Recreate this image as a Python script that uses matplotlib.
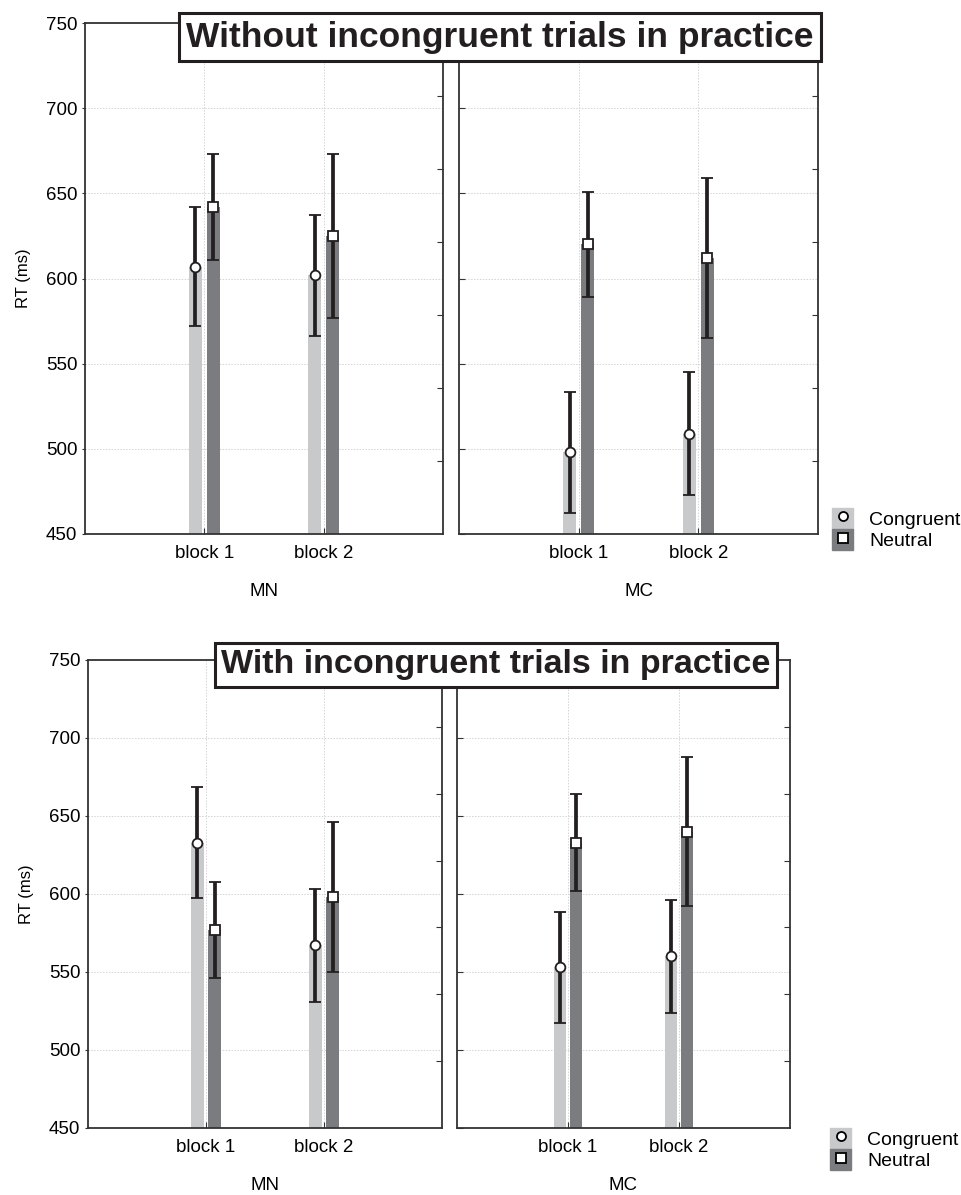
import matplotlib
matplotlib.use("Agg")
import matplotlib.pyplot as plt
import numpy as np
from matplotlib.patches import Patch
from matplotlib.lines import Line2D
from matplotlib.legend_handler import HandlerTuple

plt.rcParams['font.family'] = ['Liberation Sans', 'DejaVu Sans']

# data (ms)
blocks = ['block 1', 'block 2']
groups = ['MN', 'MC']
titles = ['Without incongruent trials in practice', 'With incongruent trials in practice']

# without incongruent trials in practice
cong_wo = {'MN': [607, 602], 'MC': [498, 509]}
cong_wo_ci = {'MN': [35, 35.5], 'MC': [35.5, 36]}
neut_wo = {'MN': [642, 625], 'MC': [620, 612]}
neut_wo_ci = {'MN': [31, 48], 'MC': [31, 47]}

# with incongruent trials in practice
cong_w = {'MN': [633, 567], 'MC': [553, 560]}
cong_w_ci = {'MN': [35.5, 36], 'MC': [35.5, 36]}
neut_w = {'MN': [577, 598], 'MC': [633, 640]}
neut_w_ci = {'MN': [31, 48], 'MC': [31, 48]}

W, H = 961, 1195
C_LIGHT = '#c8c9cb'
C_DARK = '#7b7c80'
C_ERR = '#231f20'
FS = 13.5

fig = plt.figure(figsize=(W / 100, H / 100), dpi=100)


def rect(x0, y0, x1, y1):
    return [x0 / W, 1 - y1 / H, (x1 - x0) / W, (y1 - y0) / H]


def draw_panel(ax, cong, cong_ci, neut, neut_ci, group, first):
    x = np.arange(1, len(blocks) + 1)
    off, bw = 0.075, 0.108
    ax.bar(x - off, np.array(cong) - 450, bottom=450, width=bw, color=C_LIGHT, zorder=2)
    ax.bar(x + off, np.array(neut) - 450, bottom=450, width=bw, color=C_DARK, zorder=2)
    ax.errorbar(x - off, cong, yerr=cong_ci, fmt='o', color=C_ERR, mfc='white', mec=C_ERR,
                ms=7, mew=1.3, elinewidth=2.7, capsize=4.5, capthick=2.7, zorder=3)
    ax.errorbar(x + off, neut, yerr=neut_ci, fmt='s', color=C_ERR, mfc='white', mec=C_ERR,
                ms=7, mew=1.3, elinewidth=2.7, capsize=4.5, capthick=2.7, zorder=3)
    ax.set_xlim(0, 3)
    ax.set_ylim(450, 750)
    ax.set_xticks(x)
    ax.set_xticklabels(blocks, fontsize=FS)
    ax.set_yticks(np.arange(450, 751, 50))
    ax.grid(True, ls=(0, (1.5, 1.5)), color='#d4d4d4', lw=0.7, zorder=0)
    ax.tick_params(axis='x', direction='in', length=4, pad=8, color='#333333')
    if first:
        ax.tick_params(axis='y', direction='out', length=2, labelsize=FS, color='#333333')
        ax.set_ylabel('RT (ms)', fontsize=12, labelpad=11)
    else:
        ax.tick_params(axis='y', direction='in', length=4, labelleft=False, color='#333333')
    ax.set_xlabel(group, fontsize=FS, labelpad=15)
    for s in ax.spines.values():
        s.set_color('#333333')
        s.set_linewidth(1.3)
    tw = ax.twinx()
    tw.set_ylim(450, 750)
    tw.set_yticks(np.linspace(450, 750, 8)[1:-1])
    tw.tick_params(axis='y', direction='in', length=4, labelright=False, color='#333333')
    for s in tw.spines.values():
        s.set_visible(False)


panels = [
    (titles[0], cong_wo, cong_wo_ci, neut_wo, neut_wo_ci,
     [(85, 23, 443, 534), (459, 23, 818, 534)], (500, 37), 25.5, (832, 529)),
    (titles[1], cong_w, cong_w_ci, neut_w, neut_w_ci,
     [(88, 660, 442, 1128), (457, 660, 790, 1128)], (496, 665), 24.5, (830, 1149)),
]

for title, cong, cong_ci, neut, neut_ci, boxes, tpos, tfs, lpos in panels:
    for i, (g, b) in enumerate(zip(groups, boxes)):
        ax = fig.add_axes(rect(*b))
        draw_panel(ax, cong[g], cong_ci[g], neut[g], neut_ci[g], g, i == 0)
    fig.text(tpos[0] / W, 1 - tpos[1] / H, title, ha='center', va='center',
             fontsize=tfs, fontweight='bold', color='#231f20', zorder=10,
             bbox=dict(boxstyle='square,pad=0.2', fc='white', ec='#231f20', lw=2.2))
    h1 = (Patch(facecolor=C_LIGHT, edgecolor=C_LIGHT),
          Line2D([], [], marker='o', ls='', mfc='white', mec='k', ms=6.5, mew=1.3))
    h2 = (Patch(facecolor=C_DARK, edgecolor=C_DARK),
          Line2D([], [], marker='s', ls='', mfc='white', mec='k', ms=6.5, mew=1.3))
    fig.legend([h1, h2], ['Congruent', 'Neutral'], loc='center left',
               bbox_to_anchor=(lpos[0] / W, 1 - lpos[1] / H), frameon=False,
               fontsize=14, handlelength=1.1, handleheight=1.3, handletextpad=0.8,
               labelspacing=0.0, borderpad=0, borderaxespad=0,
               handler_map={tuple: HandlerTuple(ndivide=1)})

fig.savefig('out.png', dpi=100)
